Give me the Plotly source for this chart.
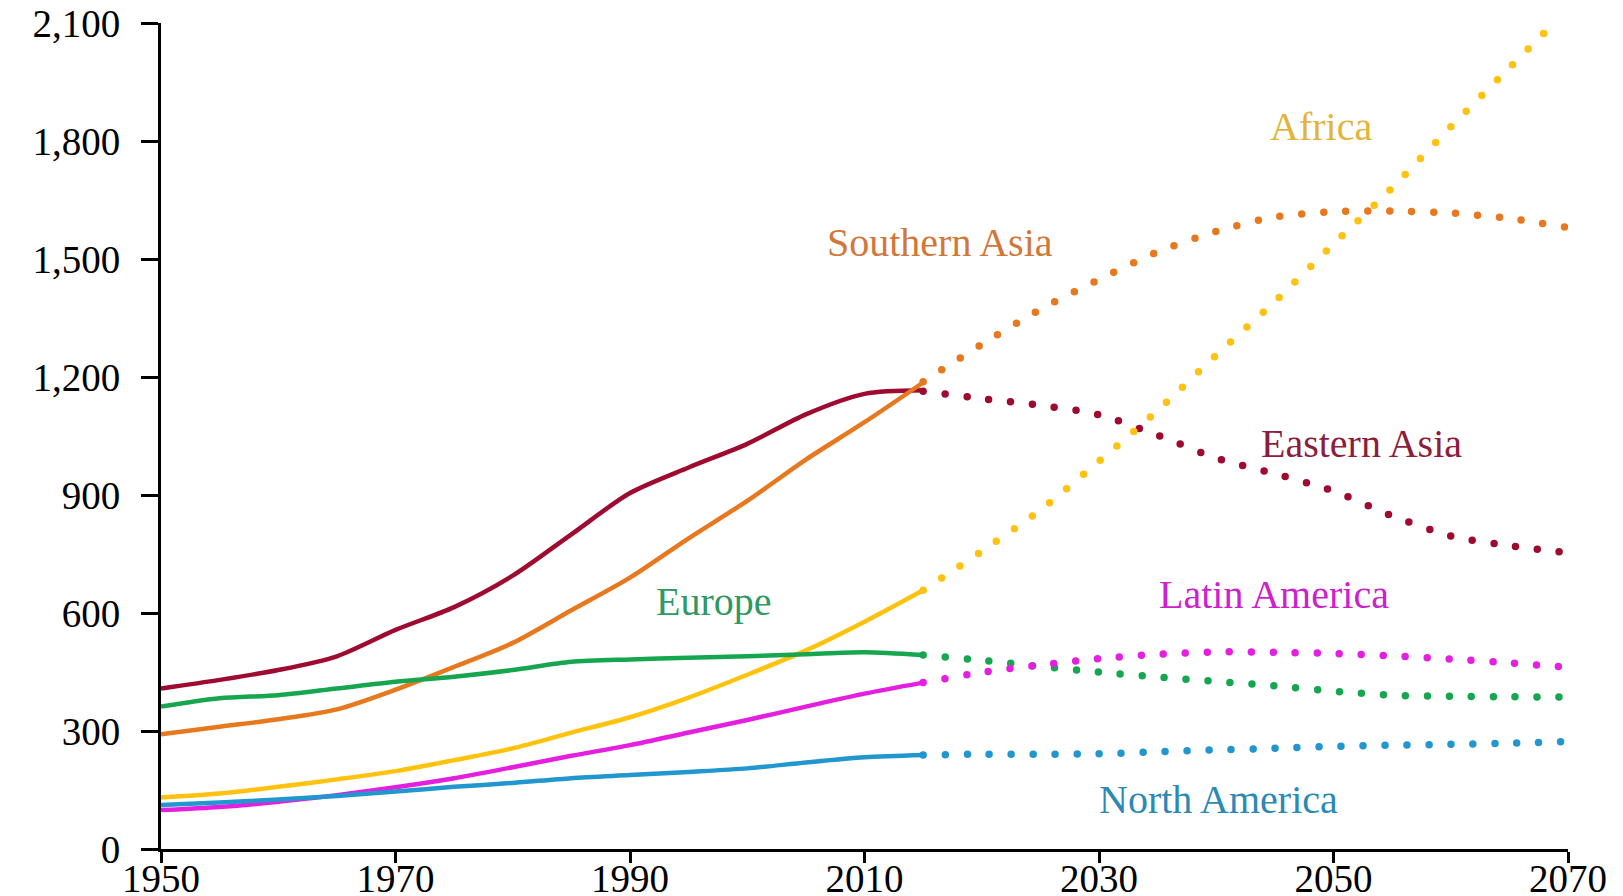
import plotly.graph_objects as go

# ---- data ----
years_hist = [1950, 1955, 1960, 1965, 1970, 1975, 1980, 1985, 1990, 1995, 2000, 2005, 2010, 2015]
years_proj = [2015, 2020, 2025, 2030, 2035, 2040, 2045, 2050, 2055, 2060, 2065, 2070]

regions = ["Eastern Asia", "Southern Asia", "Africa", "Europe", "Latin America", "North America"]

eastern_asia_hist = [408, 430, 455, 490, 557, 615, 695, 800, 905, 970, 1030, 1105, 1157, 1166]
eastern_asia_proj = [1164, 1145, 1128, 1104, 1052, 994, 954, 910, 847, 796, 771, 753]

southern_asia_hist = [292, 311, 330, 355, 405, 463, 524, 607, 690, 790, 885, 990, 1085, 1186]
southern_asia_proj = [1188, 1283, 1372, 1448, 1518, 1570, 1607, 1620, 1622, 1617, 1603, 1580]

africa_hist = [131, 141, 158, 177, 198, 226, 256, 296, 335, 385, 443, 505, 578, 658]
africa_proj = [658, 757, 862, 986, 1115, 1256, 1392, 1538, 1681, 1836, 1986, 2135]

europe_hist = [362, 383, 391, 408, 425, 438, 455, 476, 482, 486, 490, 495, 500, 493]
europe_proj = [493, 480, 464, 450, 437, 426, 415, 401, 391, 388, 387, 386]

latin_america_hist = [99, 107, 120, 137, 157, 180, 208, 237, 264, 296, 328, 362, 395, 423]
latin_america_proj = [423, 449, 468, 484, 495, 501, 500, 497, 491, 483, 473, 462]

north_america_hist = [112, 118, 126, 135, 146, 158, 168, 180, 188, 196, 205, 220, 233, 239]
north_america_proj = [239, 241, 241, 242, 247, 252, 256, 261, 264, 266, 269, 273]

x_ticks = [1950, 1970, 1990, 2010, 2030, 2050, 2070]
y_ticks = [0, 300, 600, 900, 1200, 1500, 1800, 2100]

line_colors = ["#9E0A30", "#E8781E", "#FFC20E", "#17A650", "#E51FE0", "#2196CF"]
label_colors = ["#8C1D3C", "#D2773A", "#E2B43C", "#2E9960", "#CC22CC", "#2B8AB5"]

# label anchor positions (in data units)
label_x = [2052.4, 2016.4, 2048.9, 1997.2, 2044.9, 2040.2]
label_y = [1032, 1543, 1837, 628, 648, 127]

hist = [eastern_asia_hist, southern_asia_hist, africa_hist, europe_hist, latin_america_hist, north_america_hist]
proj = [eastern_asia_proj, southern_asia_proj, africa_proj, europe_proj, latin_america_proj, north_america_proj]

FONT = "Liberation Serif, Times New Roman, serif"

fig = go.Figure()

# draw projections first, then history on top
for name, p, c in zip(regions, proj, line_colors):
    fig.add_trace(go.Scatter(
        x=years_proj, y=p, mode="lines", name=name + " (projection)",
        line=dict(color=c, width=7.5, dash="0px,22px", shape="spline", smoothing=0.8),
        showlegend=False))

for name, h, c in zip(regions, hist, line_colors):
    fig.add_trace(go.Scatter(
        x=years_hist, y=h, mode="lines", name=name,
        line=dict(color=c, width=4.5, shape="spline", smoothing=0.8),
        showlegend=False))

for name, lx, ly, lc in zip(regions, label_x, label_y, label_colors):
    fig.add_annotation(x=lx, y=ly, xref="x", yref="y", text=name, showarrow=False,
                       font=dict(family=FONT, size=40, color=lc),
                       xanchor="center", yanchor="middle")

fig.update_layout(
    width=1623, height=896,
    margin=dict(l=161, r=55, t=23, b=47, autoexpand=False),
    paper_bgcolor="white", plot_bgcolor="white",
    showlegend=False,
    font=dict(family=FONT, color="black"),
)
fig.update_xaxes(
    range=[1950, 2070], tickvals=x_ticks, ticktext=[str(v) for v in x_ticks],
    showgrid=False, zeroline=False, automargin=False,
    showline=True, linecolor="black", linewidth=3,
    ticks="outside", ticklen=11, tickwidth=2.5, tickcolor="black",
    tickfont=dict(family=FONT, size=39, color="black"),
    ticklabelstandoff=-18,
)
fig.update_yaxes(
    range=[0, 2100], tickvals=y_ticks, tickformat=",",
    showgrid=False, zeroline=False, automargin=False,
    showline=True, linecolor="black", linewidth=3,
    ticks="outside", ticklen=17, tickwidth=2.5, tickcolor="black",
    tickfont=dict(family=FONT, size=39, color="black"),
    ticklabelstandoff=13,
)

post = """
document.documentElement.style.margin = '0';
document.documentElement.style.overflow = 'hidden';
document.body.style.margin = '0';
document.body.style.overflow = 'hidden';
function roundDots(){
  document.querySelectorAll('.scatterlayer path.js-line').forEach(function(p){
    var d = p.style.strokeDasharray;
    if (d && d !== 'none') { p.style.strokeLinecap = 'round'; }
  });
}
roundDots();
var gd = document.getElementById('{plot_id}');
if (gd && gd.on) { gd.on('plotly_afterplot', roundDots); }
"""

fig.write_html("out.html", post_script=post, config={"displayModeBar": False})
